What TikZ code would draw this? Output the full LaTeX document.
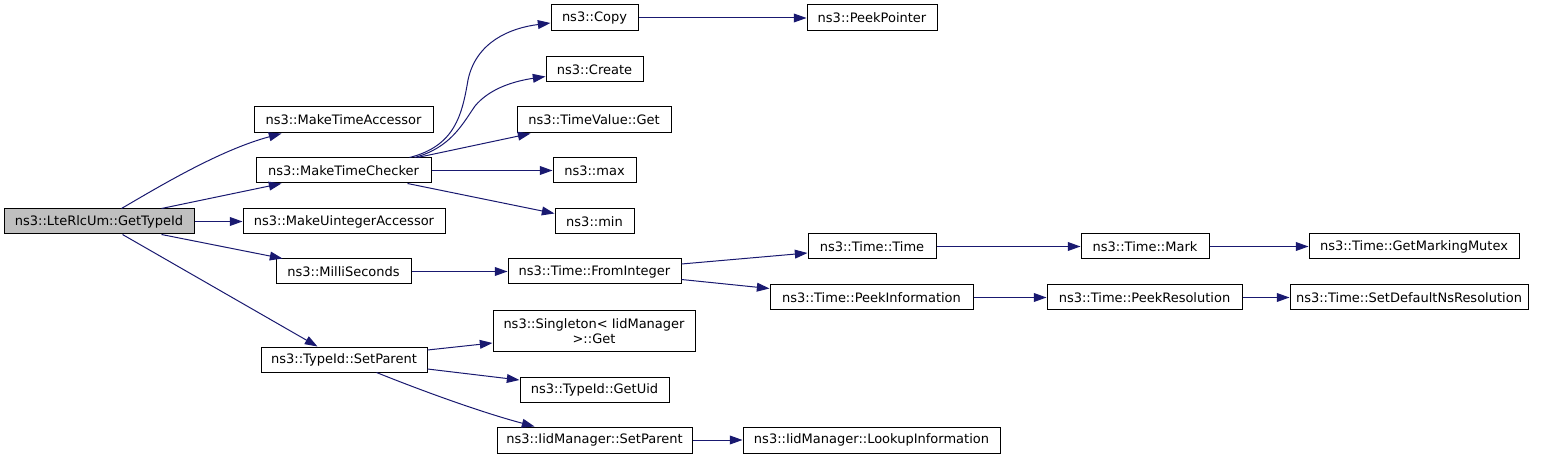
\documentclass[tikz,border=0pt]{standalone}
\usepackage{fontspec}
\setmainfont{DejaVu Sans}
\usetikzlibrary{arrows.meta}
\definecolor{edgeblue}{HTML}{191970}
\definecolor{rootgray}{HTML}{BFBFBF}
\newcommand\callbox[7][]{%
  \pgfmathsetmacro\cbx{(#3+#5)/2}%
  \pgfmathsetmacro\cby{(#4+#6)/2}%
  \pgfmathsetmacro\cbw{(#5-#3)*0.75}%
  \pgfmathsetmacro\cbh{(#6-#4)*0.75}%
  \node[fn, #1, minimum width=\cbw pt, minimum height=\cbh pt] (#2) at (\cbx,\cby) {#7};}
\begin{document}
\begin{tikzpicture}[x=0.75pt,y=-0.75pt,
  fn/.style={draw=black, line width=0.75pt, inner sep=0pt, font=\fontsize{9.75}{11.5}\selectfont, align=center},
  call/.style={draw=edgeblue, line width=0.75pt, -{Triangle[length=9.5pt,width=6.6pt]}}]
\useasboundingbox (0,0) rectangle (1544,459);
% nodes
\callbox[fill=rootgray]{gt}{4}{209}{194}{234}{ns3::LteRlcUm::GetTypeId}
\callbox{mta}{254}{107}{433}{133}{ns3::MakeTimeAccessor}
\callbox{mtc}{256}{158}{431}{183}{ns3::MakeTimeChecker}
\callbox{mua}{243}{209}{445}{234}{ns3::MakeUintegerAccessor}
\callbox{tvg}{517}{107}{671}{133}{ns3::TimeValue::Get}
\callbox{max}{553}{158}{636}{183}{ns3::max}
\callbox{min}{555}{209}{634}{234}{ns3::min}
\callbox{copy}{551}{5}{638}{31}{ns3::Copy}
\callbox{pp}{807}{5}{937}{31}{ns3::PeekPointer}
\callbox{create}{546}{57}{643}{82}{ns3::Create}
\callbox{ms}{276}{259}{411}{284}{ns3::MilliSeconds}
\callbox{fi}{508}{259}{681}{284}{ns3::Time::FromInteger}
\callbox{sg}{493}{311}{695}{351}{ns3::Singleton< IidManager\\ >::Get}
\callbox{tsp}{261}{347}{427}{372}{ns3::TypeId::SetParent}
\callbox{uid}{520}{377}{669}{402}{ns3::TypeId::GetUid}
\callbox{isp}{497}{427}{692}{453}{ns3::IidManager::SetParent}
\callbox{lookup}{743}{427}{1000}{453}{ns3::IidManager::LookupInformation}
\callbox{tt}{808}{234}{936}{259}{ns3::Time::Time}
\callbox{mark}{1081}{234}{1209}{259}{ns3::Time::Mark}
\callbox{gmm}{1309}{234}{1519}{259}{ns3::Time::GetMarkingMutex}
\callbox{pi}{770}{285}{973}{310}{ns3::Time::PeekInformation}
\callbox{pr}{1047}{285}{1242}{310}{ns3::Time::PeekResolution}
\callbox{sdn}{1290}{285}{1528}{310}{ns3::Time::SetDefaultNsResolution}
% edges
\draw[call] ([shift={(118,0)}]gt.north west) .. controls (160,186) and (220,150) .. ([shift={(28,0)}]mta.south west);
\draw[call] ([shift={(158,0)}]gt.north west) -- ([shift={(26,0)}]mtc.south west);
\draw[call] (gt.east) -- (mua.west);
\draw[call] ([shift={(158,0)}]gt.south west) -- ([shift={(7,0)}]ms.north west);
\draw[call] ([shift={(119,0)}]gt.south west) -- ([shift={(57,0)}]tsp.north west);
\draw[call] ([shift={(154,0)}]mtc.north west) .. controls (455,146) and (462,115) .. (468,80) .. controls (476,42) and (510,28) .. ([shift={(0,5)}]copy.west);
\draw[call] ([shift={(159,0)}]mtc.north west) .. controls (450,148) and (462,125) .. (475,106) .. controls (490,88) and (515,81) .. ([shift={(0,7)}]create.west);
\draw[call] ([shift={(162,0)}]mtc.north west) -- ([shift={(14,0)}]tvg.south west);
\draw[call] (mtc.east) -- (max.west);
\draw[call] ([shift={(152,0)}]mtc.south west) -- ([shift={(0,5)}]min.north west);
\draw[call] (copy.east) -- (pp.west);
\draw[call] (ms.east) -- (fi.west);
\draw[call] ([shift={(0,-7.5)}]fi.east) -- ([shift={(0,6.5)}]tt.west);
\draw[call] ([shift={(0,8)}]fi.east) -- ([shift={(0,-9)}]pi.west);
\draw[call] (tt.east) -- (mark.west);
\draw[call] (mark.east) -- (gmm.west);
\draw[call] (pi.east) -- (pr.west);
\draw[call] (pr.east) -- (sdn.west);
\draw[call] ([shift={(0,-9.5)}]tsp.east) -- ([shift={(0,12)}]sg.west);
\draw[call] ([shift={(0,9.5)}]tsp.east) -- ([shift={(0,-9.5)}]uid.west);
\draw[call] ([shift={(116,0)}]tsp.south west) .. controls (420,390) and (480,412) .. ([shift={(38,0)}]isp.north west);
\draw[call] (isp.east) -- (lookup.west);
\end{tikzpicture}
\end{document}
